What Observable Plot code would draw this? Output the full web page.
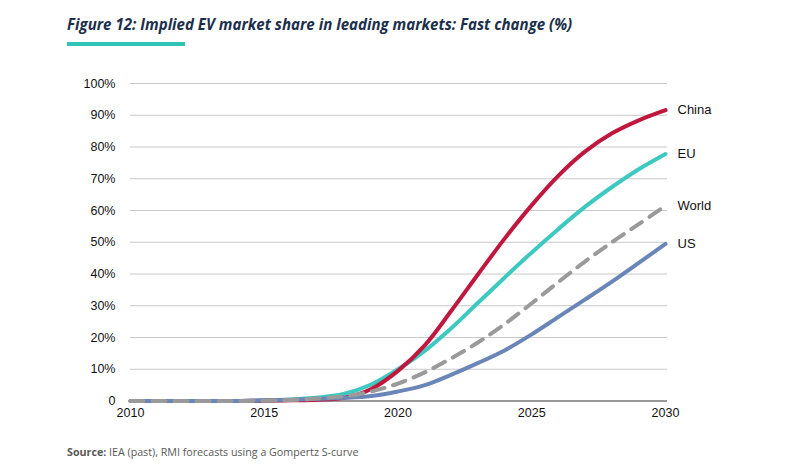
<!DOCTYPE html>
<html><head><meta charset="utf-8">
<script src="https://cdn.jsdelivr.net/npm/d3@7"></script>
<script src="https://cdn.jsdelivr.net/npm/@observablehq/plot@0.6"></script>
<style>
body{margin:0;background:#fff;width:804px;height:467px;position:relative;overflow:hidden}
#title{position:absolute;left:67px;top:13px;font:italic 700 16px "Open Sans";color:#1b2f4b;white-space:nowrap;transform-origin:left top;transform:scaleX(0.942)}
#bar{position:absolute;left:67px;top:42px;width:118px;height:4px;background:#2ec4b6}
#chart{position:absolute;left:0;top:60px}
#source{position:absolute;left:67px;top:445px;font:10.7px "Open Sans";color:#595959;white-space:nowrap}
</style></head>
<body>
<div id="title">Figure 12: Implied EV market share in leading markets: Fast change (%)</div>
<div id="bar"></div>
<div id="chart"></div>
<div id="source"><b>Source:</b> IEA (past), RMI forecasts using a Gompertz S-curve</div>
<script>
const years = [2010,2011,2012,2013,2014,2015,2016,2017,2018,2019,2020,2021,2022,2023,2024,2025,2026,2027,2028,2029,2030];
const china = [0,0,0,0,0,0.1,0.2,0.4,1.0,3.8,9.5,17.5,28.5,40,51.3,61.7,71,78.6,84.3,88.4,91.6];
const eu    = [0,0,0,0,0,0.1,0.5,1.1,2.3,5.2,10,15.8,23,31,39,46.8,54.2,61.2,67.4,73,77.8];
const world = [0,0,0,0,0,0.1,0.3,0.8,1.5,3,5.5,9,13.5,18.5,24.3,30.8,37.5,44,50,55.7,61.5];
const us    = [0,0,0,0,0,0.2,0.4,0.7,1.0,1.6,3,5,8.3,12,16,21,26.5,32,37.6,43.5,49.5];
const seriesNames = ["China","EU","World","US"];
const yTicks = [0,10,20,30,40,50,60,70,80,90,100];
const xTicks = [2010,2015,2020,2025,2030];

const colors = {China:"#c0173f", EU:"#3ec9c0", World:"#9a9a9a", US:"#6a86b8"};
const vals = {China:china, EU:eu, World:world, US:us};
const tidy = name => years.map((y,i)=>({year:y, value:vals[name][i], series:name}));
const labels = seriesNames.map(n=>({series:n, year:years[years.length-1], value:vals[n][vals[n].length-1]}));

const lineMark = (name, extra={}) => Plot.line(tidy(name), {x:"year", y:"value", stroke:colors[name], strokeWidth:4, curve:"catmull-rom", ...extra});

const plot = Plot.plot({
  width:804, height:366,
  marginLeft:130, marginRight:139, marginTop:23, marginBottom:25.5,
  style:{fontFamily:"'Liberation Sans', Arial, sans-serif", fontSize:"12.5px", color:"#111", background:"#fff"},
  x:{domain:[2010,2030]},
  y:{domain:[0,100]},
  marks:[
    Plot.ruleY(yTicks.filter(d=>d>0), {stroke:"#c8c8c8", strokeWidth:1, insetRight:-2}),
    Plot.ruleY([0], {stroke:"#333", strokeWidth:1, insetRight:-2}),
    Plot.axisY({ticks:yTicks, tickSize:0, tickPadding:15, tickFormat:d=>d===0?"0":d+"%", label:null}),
    Plot.axisX({ticks:xTicks, tickSize:0, tickPadding:7, tickFormat:d=>String(d), label:null}),
    lineMark("EU"),
    lineMark("China"),
    lineMark("US"),
    lineMark("World", {strokeDasharray:"13,9"}),
    Plot.text(labels, {x:"year", y:"value", text:"series", dx:12, textAnchor:"start", fontSize:13, fill:"#111"})
  ]
});
document.getElementById("chart").appendChild(plot);
</script>
</body></html>
